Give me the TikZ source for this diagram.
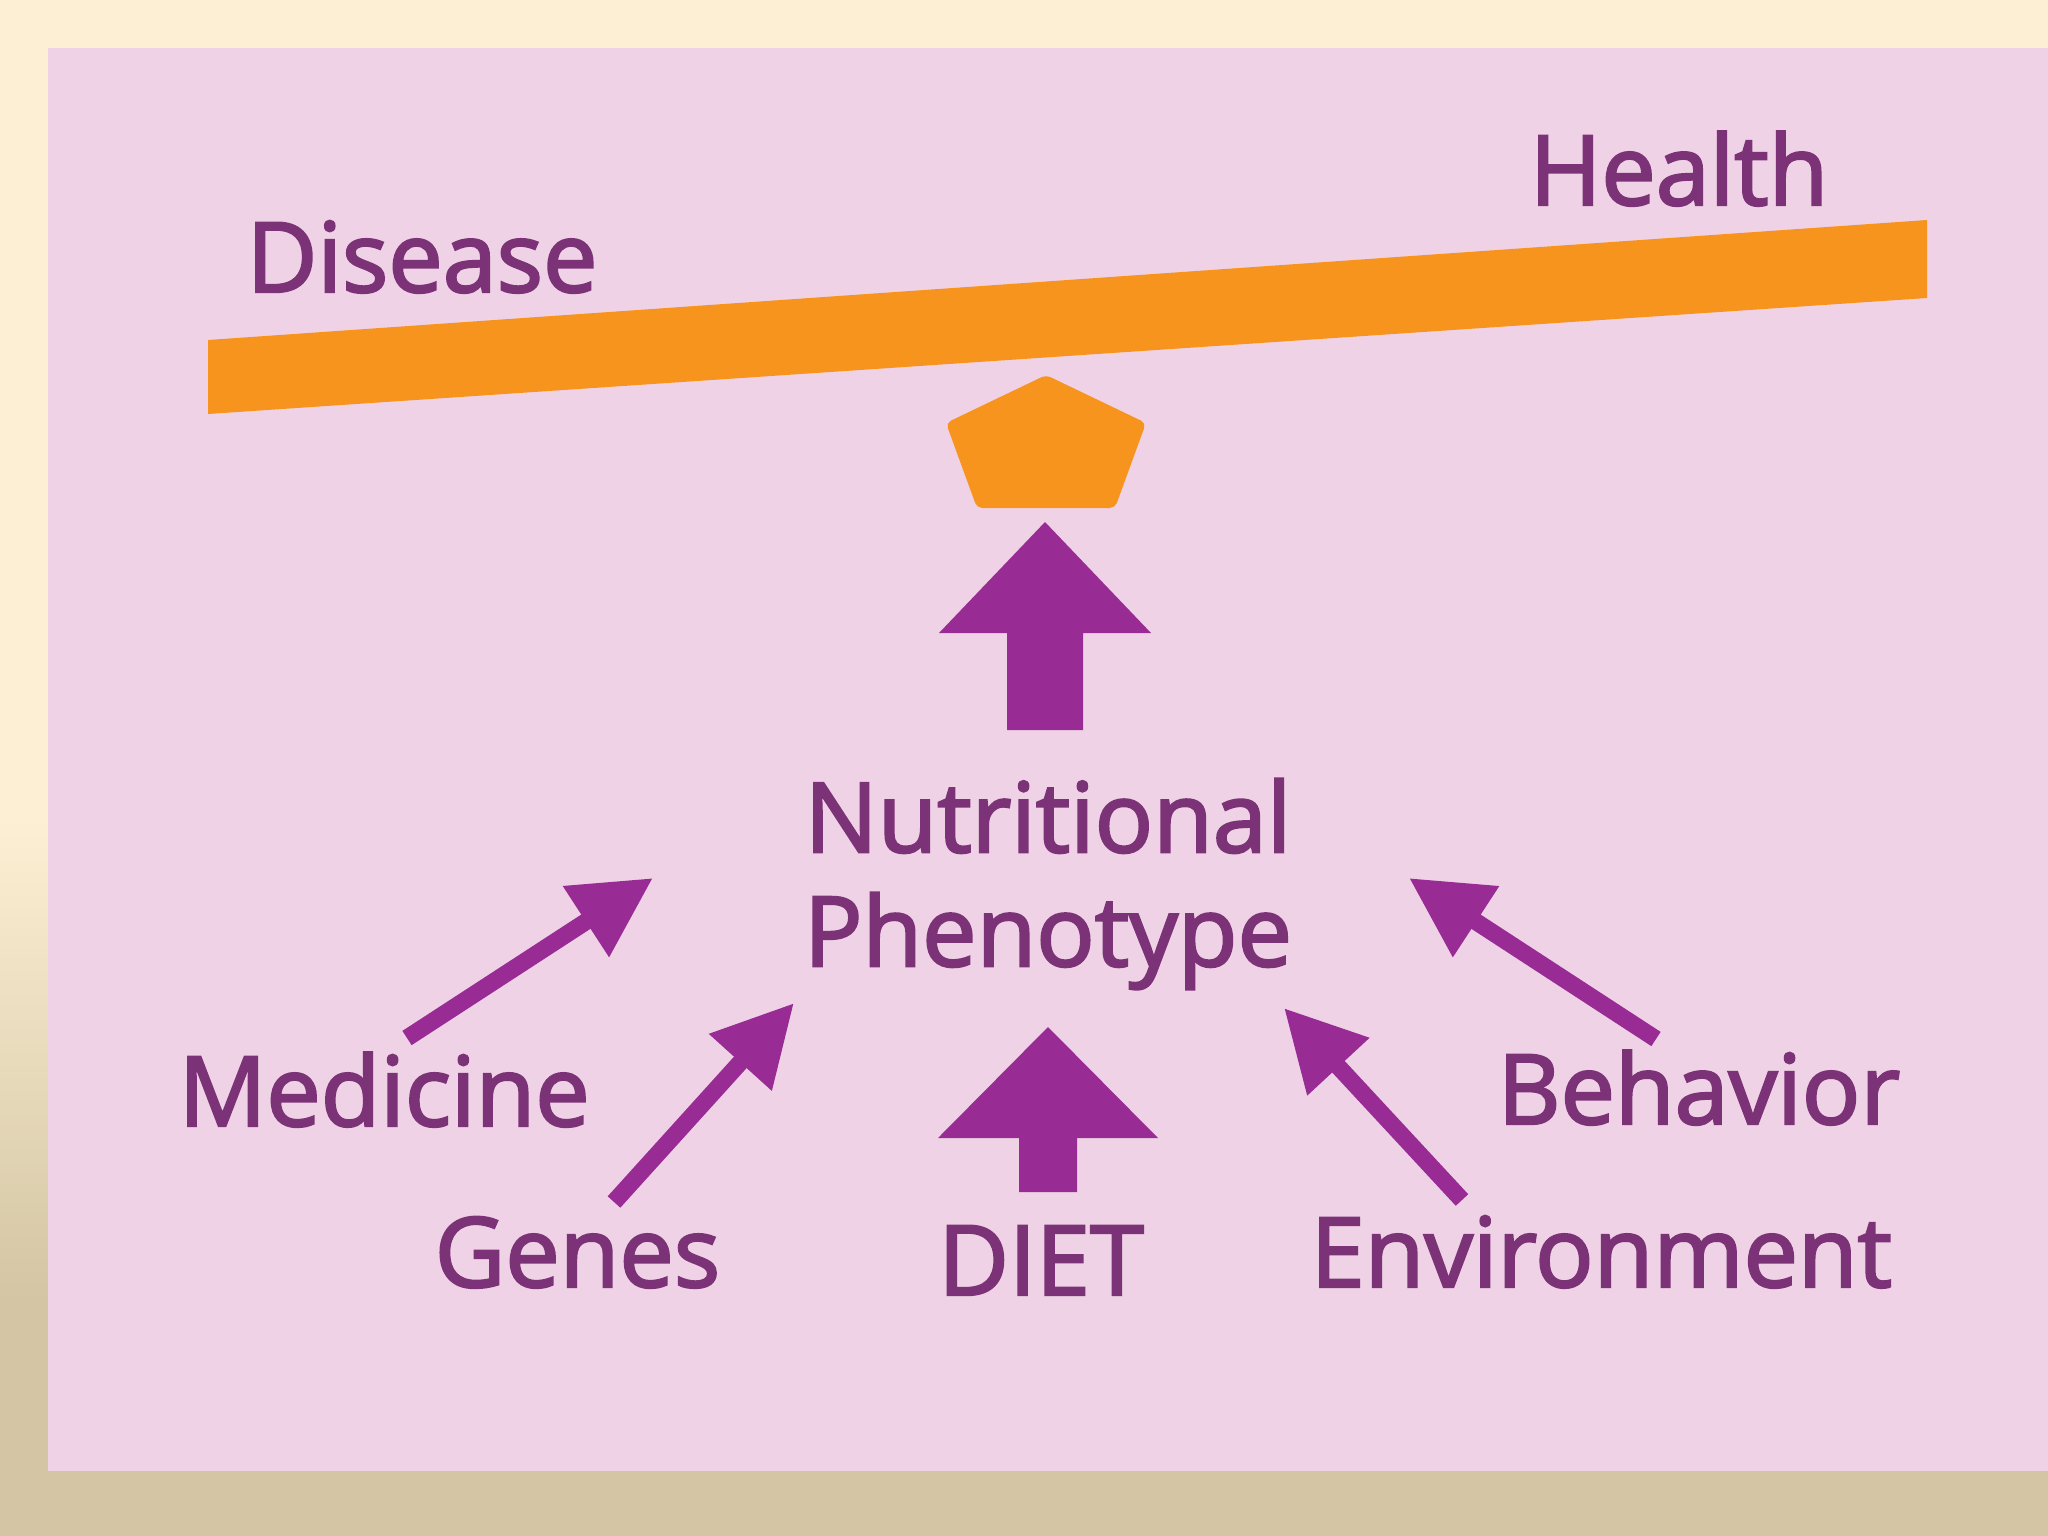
\documentclass[tikz,border=0pt]{standalone}
\usepackage{fontspec}
\setmainfont{Open Sans}
\newfontfamily\lblfont{Open Sans}[FakeBold=2.4]
\usetikzlibrary{arrows.meta}
\definecolor{cream}{RGB}{252,239,211}
\definecolor{tanbg}{RGB}{212,198,164}
\definecolor{panelpink}{RGB}{239,210,230}
\definecolor{barorange}{RGB}{247,148,30}
\definecolor{arrowpurple}{RGB}{152,44,148}
\definecolor{textpurple}{RGB}{124,50,118}
\begin{document}
\begin{tikzpicture}[x=0.01cm,y=-0.01cm,
  lbl/.style={text=textpurple, inner sep=0pt, font=\lblfont\fontsize{27.6pt}{32.4pt}\selectfont},
  thinarrow/.style={draw=arrowpurple, line width=0.17cm, -{Triangle[length=0.8cm,width=0.8cm]}},
  blockarrow/.style={fill=arrowpurple},
  orangeshape/.style={fill=barorange}
]
\useasboundingbox (0,0) rectangle (2048,1536);
% background
\fill[cream] (0,0) rectangle (2048,820);
\shade[top color=cream, bottom color=tanbg] (0,819) rectangle (2048,1300);
\fill[tanbg] (0,1299) rectangle (2048,1536);
\fill[panelpink] (48,48) rectangle (2048,1471);

% balance bar and fulcrum
\fill[orangeshape] (208,340) -- (1927,220) -- (1927,298) -- (208,414) -- cycle;
\fill[orangeshape, rounded corners=1.5pt] (1046,375) -- (1146,423) -- (1115,508) -- (977,508) -- (946,423) -- cycle;

% labels
\node[lbl, anchor=base west] (disease) at (246,292) {Disease};
\node[lbl, anchor=base west] (health) at (1529,205) {Health};
\node[lbl, align=center, anchor=center] (pheno) at (1048,884) {Nutritional\\Phenotype};
\node[lbl, anchor=base west] (medicine) at (178,1126) {Medicine};
\node[lbl, anchor=base west] (behavior) at (1497,1124) {Behavior};
\node[lbl, anchor=base west] (genes) at (434,1287) {Genes};
\node[lbl, anchor=base] (diet) at (1041,1295) {DIET};
\node[lbl, anchor=base west] (environment) at (1310,1287) {Environment};

% block arrows
\fill[blockarrow] (1045,522) -- (1151,633) -- (1083,633) -- (1083,730) -- (1007,730) -- (1007,633) -- (939,633) -- cycle;
\fill[blockarrow] (1048,1027) -- (1158,1138) -- (1077,1138) -- (1077,1192) -- (1019,1192) -- (1019,1138) -- (938,1138) -- cycle;

% thin arrows
\coordinate (medT) at (407,1038);
\coordinate (medH) at (653,878);
\coordinate (genT) at (614,1202);
\coordinate (genH) at (794,1003);
\coordinate (envT) at (1462,1200);
\coordinate (envH) at (1284,1008);
\coordinate (behT) at (1656,1039);
\coordinate (behH) at (1409,878);
\draw[thinarrow] (medT) -- (medH);
\draw[thinarrow] (genT) -- (genH);
\draw[thinarrow] (envT) -- (envH);
\draw[thinarrow] (behT) -- (behH);
\end{tikzpicture}
\end{document}
